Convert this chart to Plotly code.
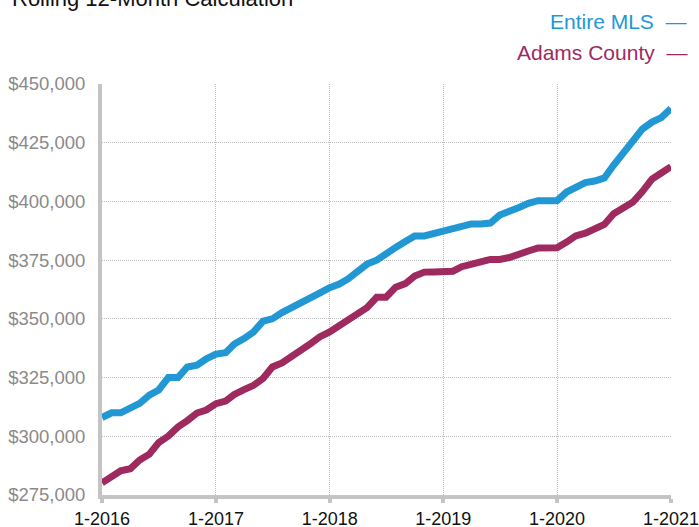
import plotly.graph_objects as go
import pandas as pd

months = pd.date_range("2016-01-01", "2021-01-01", freq="MS").strftime("%Y-%m-%d").tolist()

entire_mls = [
    308000, 310000, 310000, 312000, 314000, 317500, 319700, 325000, 325000, 329500,
    330300, 333000, 335000, 335600, 339300, 341600, 344400, 349000, 350000, 352700,
    355000, 356700, 359700, 361100, 363300, 364800, 367000, 370000, 373300, 375000,
    378000, 380400, 382900, 385300, 385300, 386400, 387500, 388000, 389300, 390400,
    390400, 390800, 394200, 395500, 397400, 399200, 400300, 400300, 400300, 404000,
    406100, 408000, 408700, 410000, 415500, 421000, 426100, 430800, 433800, 435700,
    439600,
]

adams_county = [
    280200, 282750, 285300, 286200, 289900, 292400, 297300, 300100, 304000, 306700,
    309900, 311200, 313900, 315000, 317800, 319900, 321600, 324600, 329500, 331200,
    334400, 336700, 339500, 342400, 344400, 346900, 349700, 352500, 354800, 359200,
    359200, 363500, 365000, 368200, 369900, 370000, 370000, 370300, 372200, 372900,
    374300, 375300, 375300, 376100, 377800, 378900, 380200, 380300, 380300, 382700,
    385300, 386500, 388200, 390200, 394800, 397200, 399700, 404200, 409500, 412100,
    414800,
]

x_tick_vals = ["2016-01-01", "2017-01-01", "2018-01-01", "2019-01-01", "2020-01-01", "2021-01-01"]
x_tick_text = ["1-2016", "1-2017", "1-2018", "1-2019", "1-2020", "1-2021"]
y_tick_vals = [275000, 300000, 325000, 350000, 375000, 400000, 425000, 450000]
y_tick_text = ["$275,000", "$300,000", "$325,000", "$350,000", "$375,000", "$400,000", "$425,000", "$450,000"]

series_names = ["Entire MLS", "Adams County"]
BLUE = "#2198d4"
MAROON = "#9e2a5f"
FONT = "Liberation Sans, Arial, Helvetica, sans-serif"

L, R, T, B = 102, 28, 84, 32
PW, PH = 699 - L - R, 527 - T - B

fig = go.Figure()
fig.add_trace(go.Scatter(x=months, y=entire_mls, mode="lines", name=series_names[0],
                         line=dict(color=BLUE, width=7)))
fig.add_trace(go.Scatter(x=months, y=adams_county, mode="lines", name=series_names[1],
                         line=dict(color=MAROON, width=7)))

fig.update_layout(
    width=699, height=527,
    margin=dict(l=L, r=R, t=T, b=B, autoexpand=False),
    paper_bgcolor="white", plot_bgcolor="white",
    showlegend=False,
    font=dict(family=FONT),
)

GRID = dict(showgrid=True, gridcolor="#bdbdbd", gridwidth=1, griddash="1px,1px")

fig.update_xaxes(
    range=["2016-01-01", "2021-01-01"],
    tickvals=x_tick_vals, ticktext=x_tick_text,
    tickfont=dict(size=18, color="#111111", family=FONT),
    showline=True, linecolor="#c4c4c4", linewidth=4,
    ticks="outside", ticklen=4, tickwidth=4, tickcolor="#c4c4c4",
    ticklabeloverflow="allow",
    zeroline=False, automargin=False, **GRID,
)
fig.update_yaxes(
    range=[275000, 450000],
    tickvals=y_tick_vals, ticktext=y_tick_text,
    tickfont=dict(size=18.5, color="#8a8a8a", family=FONT),
    showline=True, linecolor="#c4c4c4", linewidth=4,
    ticks="", ticklabelstandoff=9, ticklabeloverflow="allow",
    zeroline=False, automargin=False, **GRID,
)

def px_x(px):
    return (px - L) / PW

def px_y(py):
    return 1 - (py - T) / PH

fig.add_annotation(
    text="Rolling 12-Month Calculation", xref="paper", yref="paper",
    x=px_x(10), y=px_y(-2),
    xanchor="left", yanchor="middle", showarrow=False,
    font=dict(size=22, color="#111111", family=FONT),
)
fig.add_annotation(
    text=series_names[0] + "  —", xref="paper", yref="paper",
    x=px_x(689), y=px_y(22),
    xanchor="right", yanchor="middle", showarrow=False,
    font=dict(size=21, color=BLUE, family=FONT),
)
fig.add_annotation(
    text=series_names[1] + "  —", xref="paper", yref="paper",
    x=px_x(689), y=px_y(52),
    xanchor="right", yanchor="middle", showarrow=False,
    font=dict(size=21, color=MAROON, family=FONT),
)

fig.write_html(
    "out.html",
    config={"displayModeBar": False},
    post_script="document.body.style.margin='0';document.body.style.overflow='hidden';",
)
